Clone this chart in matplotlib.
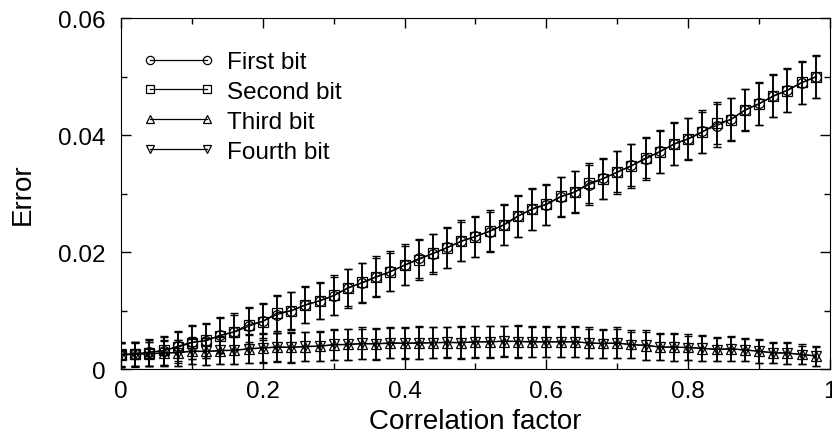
import numpy as np
import matplotlib
matplotlib.use("Agg")
import matplotlib.pyplot as plt
from matplotlib.ticker import MultipleLocator

plt.rcParams['font.family'] = ['Liberation Sans', 'DejaVu Sans']

# correlation factor 0 .. 0.98 in steps of 0.02
corr = [round(0.02 * i, 2) for i in range(50)]

first_bit = [0.0024, 0.0026, 0.0029, 0.0031, 0.0039, 0.0046, 0.0048, 0.0058, 0.0063, 0.0073,
             0.0082, 0.0093, 0.0100, 0.0109, 0.0117, 0.0125, 0.0139, 0.0147, 0.0157, 0.0167,
             0.0177, 0.0189, 0.0197, 0.0208, 0.0218, 0.0227, 0.0235, 0.0247, 0.0262, 0.0273,
             0.0281, 0.0294, 0.0303, 0.0315, 0.0326, 0.0336, 0.0348, 0.0359, 0.0372, 0.0384,
             0.0394, 0.0406, 0.0416, 0.0427, 0.0442, 0.0454, 0.0466, 0.0477, 0.0489, 0.0500]
second_bit = [0.0024, 0.0025, 0.0028, 0.0032, 0.0037, 0.0045, 0.0049, 0.0057, 0.0064, 0.0076,
              0.0081, 0.0096, 0.0099, 0.0110, 0.0116, 0.0126, 0.0138, 0.0148, 0.0158, 0.0166,
              0.0178, 0.0187, 0.0198, 0.0207, 0.0219, 0.0226, 0.0236, 0.0246, 0.0261, 0.0274,
              0.0282, 0.0295, 0.0302, 0.0318, 0.0325, 0.0337, 0.0347, 0.0361, 0.0371, 0.0385,
              0.0393, 0.0405, 0.0420, 0.0426, 0.0443, 0.0453, 0.0467, 0.0476, 0.0490, 0.0499]
third_bit = [0.0025, 0.0025, 0.0026, 0.0027, 0.0028, 0.0030, 0.0030, 0.0031, 0.0032, 0.0034,
             0.0036, 0.0037, 0.0037, 0.0038, 0.0039, 0.0041, 0.0042, 0.0043, 0.0043, 0.0044,
             0.0044, 0.0044, 0.0045, 0.0045, 0.0045, 0.0046, 0.0047, 0.0047, 0.0047, 0.0046,
             0.0047, 0.0046, 0.0047, 0.0044, 0.0044, 0.0044, 0.0042, 0.0040, 0.0038, 0.0037,
             0.0037, 0.0035, 0.0034, 0.0034, 0.0033, 0.0030, 0.0028, 0.0027, 0.0025, 0.0022]
fourth_bit = [0.0025, 0.0026, 0.0026, 0.0028, 0.0028, 0.0031, 0.0030, 0.0032, 0.0032, 0.0035,
              0.0036, 0.0038, 0.0037, 0.0039, 0.0039, 0.0042, 0.0042, 0.0044, 0.0043, 0.0045,
              0.0044, 0.0045, 0.0045, 0.0046, 0.0045, 0.0047, 0.0046, 0.0048, 0.0047, 0.0047,
              0.0046, 0.0047, 0.0046, 0.0045, 0.0043, 0.0045, 0.0041, 0.0041, 0.0037, 0.0038,
              0.0036, 0.0036, 0.0033, 0.0035, 0.0032, 0.0031, 0.0027, 0.0028, 0.0024, 0.0023]

first_err = [0.0020, 0.0021, 0.0023, 0.0024, 0.0026, 0.0029, 0.0029, 0.0031, 0.0030, 0.0031,
             0.0029, 0.0032, 0.0031, 0.0031, 0.0032, 0.0033, 0.0032, 0.0034, 0.0033, 0.0034,
             0.0034, 0.0033, 0.0034, 0.0035, 0.0034, 0.0035, 0.0034, 0.0035, 0.0036, 0.0035,
             0.0034, 0.0034, 0.0035, 0.0034, 0.0035, 0.0036, 0.0036, 0.0036, 0.0037, 0.0036,
             0.0035, 0.0036, 0.0037, 0.0036, 0.0036, 0.0037, 0.0036, 0.0037, 0.0036, 0.0037]
second_err = [0.0021, 0.0022, 0.0022, 0.0025, 0.0027, 0.0028, 0.0030, 0.0030, 0.0032, 0.0030,
              0.0031, 0.0031, 0.0033, 0.0032, 0.0031, 0.0034, 0.0033, 0.0033, 0.0035, 0.0033,
              0.0035, 0.0034, 0.0033, 0.0034, 0.0035, 0.0034, 0.0036, 0.0034, 0.0035, 0.0036,
              0.0035, 0.0033, 0.0036, 0.0035, 0.0034, 0.0035, 0.0037, 0.0035, 0.0036, 0.0037,
              0.0036, 0.0035, 0.0036, 0.0037, 0.0035, 0.0036, 0.0037, 0.0036, 0.0037, 0.0036]
third_err = [0.0020, 0.0020, 0.0021, 0.0021, 0.0022, 0.0022, 0.0023, 0.0023, 0.0024, 0.0024,
             0.0024, 0.0025, 0.0025, 0.0025, 0.0026, 0.0026, 0.0026, 0.0026, 0.0027, 0.0026,
             0.0027, 0.0027, 0.0026, 0.0027, 0.0027, 0.0027, 0.0027, 0.0027, 0.0027, 0.0026,
             0.0027, 0.0026, 0.0026, 0.0025, 0.0025, 0.0025, 0.0024, 0.0024, 0.0023, 0.0023,
             0.0022, 0.0021, 0.0021, 0.0021, 0.0020, 0.0019, 0.0018, 0.0018, 0.0017, 0.0016]
fourth_err = [0.0021, 0.0021, 0.0021, 0.0022, 0.0022, 0.0023, 0.0023, 0.0024, 0.0023, 0.0025,
              0.0025, 0.0024, 0.0026, 0.0025, 0.0025, 0.0027, 0.0026, 0.0027, 0.0026, 0.0027,
              0.0026, 0.0028, 0.0027, 0.0026, 0.0028, 0.0026, 0.0028, 0.0026, 0.0028, 0.0027,
              0.0026, 0.0027, 0.0025, 0.0026, 0.0024, 0.0026, 0.0023, 0.0025, 0.0022, 0.0024,
              0.0021, 0.0022, 0.0020, 0.0022, 0.0019, 0.0020, 0.0017, 0.0019, 0.0016, 0.0017]

series = [
    ("First bit", first_bit, first_err, "o"),
    ("Second bit", second_bit, second_err, "s"),
    ("Third bit", third_bit, third_err, "^"),
    ("Fourth bit", fourth_bit, fourth_err, "v"),
]

fig = plt.figure(figsize=(8.32, 4.35), dpi=100)
ax = fig.add_axes([0.1454, 0.1494, 0.8522, 0.8069])

for name, vals, errs, mk in series:
    ax.errorbar(corr, vals, yerr=errs, fmt="none", ecolor="black",
                elinewidth=1.1, capsize=3, capthick=1.0)
    ax.plot(corr, vals, color="black", linewidth=0.9, marker=mk,
            markersize=7, markerfacecolor="none", markeredgecolor="black",
            markeredgewidth=0.9, label=name)

ax.set_xlim(0, 1)
ax.set_ylim(0, 0.06)
ax.xaxis.set_minor_locator(MultipleLocator(0.1))
ax.yaxis.set_minor_locator(MultipleLocator(0.01))
ax.set_xticks([0, 0.2, 0.4, 0.6, 0.8, 1.0])
ax.set_xticklabels(["0", "0.2", "0.4", "0.6", "0.8", "1"])
ax.set_yticks([0, 0.02, 0.04, 0.06])
ax.set_yticklabels(["0", "0.02", "0.04", "0.06"])
ax.tick_params(which="both", direction="in", top=True, right=True, labelsize=17.5)
ax.tick_params(which="major", length=7, width=1)
ax.tick_params(which="minor", length=4, width=1)
ax.tick_params(axis="x", pad=8)
ax.tick_params(axis="y", pad=11)

ax.set_xlabel("Correlation factor", fontsize=20, labelpad=4)
ax.set_ylabel("Error", fontsize=20, labelpad=16)

ax.legend(loc="upper left", bbox_to_anchor=(0.0, 0.968), frameon=False,
          numpoints=2, fontsize=17.5, handlelength=2.95, handletextpad=0.5,
          labelspacing=0.32, borderaxespad=0.0, borderpad=0.9, markerscale=0.85)

fig.savefig("out.png", dpi=100)
